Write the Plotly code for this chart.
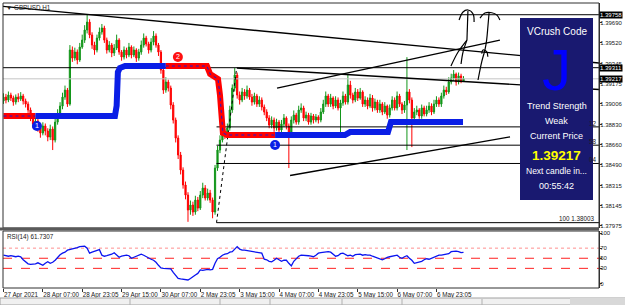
import plotly.graph_objects as go

# ------------------------------------------------------------------ data
symbol_title = "GBPUSD,H1"
time_labels = ["27 Apr 2021", "28 Apr 07:00", "28 Apr 23:05", "29 Apr 15:00",
               "30 Apr 07:00", "2 May 23:05", "3 May 15:00", "4 May 07:00",
               "4 May 23:05", "5 May 15:00", "6 May 07:00", "6 May 23:05"]
label_bars = [0, 16, 32, 48, 64, 80, 96, 112, 128, 144, 160, 176]

first_open = 1.39030
closes = [1.39063, 1.39038, 1.39080, 1.39055, 1.39021, 1.39063, 1.39046, 1.39072, 1.39030, 1.39004,
          1.38954, 1.38886, 1.38835, 1.38861, 1.38802, 1.38759, 1.38819, 1.38776, 1.38726, 1.38793,
          1.38700, 1.38852, 1.38928, 1.38987, 1.39063, 1.39122, 1.39004, 1.39460, 1.39392, 1.39443,
          1.39376, 1.39485, 1.39544, 1.39629, 1.39696, 1.39587, 1.39502, 1.39460, 1.39561, 1.39612,
          1.39646, 1.39544, 1.39460, 1.39502, 1.39435, 1.39477, 1.39544, 1.39443, 1.39401, 1.39460,
          1.39418, 1.39485, 1.39418, 1.39460, 1.39392, 1.39443, 1.39502, 1.39561, 1.39511, 1.39460,
          1.39527, 1.39578, 1.39502, 1.39443, 1.39291, 1.39122, 1.39190, 1.39139, 1.38996, 1.38869,
          1.38717, 1.38574, 1.38447, 1.38321, 1.38236, 1.38110, 1.38152, 1.38093, 1.38194, 1.38126,
          1.38236, 1.38295, 1.38211, 1.38253, 1.38194, 1.38093, 1.38464, 1.38616, 1.38700, 1.38759,
          1.38743, 1.38802, 1.38954, 1.39139, 1.39249, 1.39080, 1.39038, 1.39106, 1.39072, 1.39122,
          1.39063, 1.39021, 1.39072, 1.39004, 1.39038, 1.38979, 1.38937, 1.38886, 1.38827, 1.38869,
          1.38802, 1.38852, 1.38785, 1.38835, 1.38886, 1.38819, 1.38743, 1.38869, 1.38911, 1.38852,
          1.38954, 1.38971, 1.38886, 1.38911, 1.38852, 1.38903, 1.38869, 1.38895, 1.38869, 1.38937,
          1.39004, 1.39072, 1.39004, 1.39055, 1.38987, 1.39038, 1.38971, 1.39013, 1.39072, 1.39021,
          1.39165, 1.39080, 1.39038, 1.39106, 1.39055, 1.39106, 1.39004, 1.39038, 1.38987, 1.39055,
          1.38971, 1.39021, 1.38954, 1.39004, 1.38937, 1.38987, 1.38911, 1.38971, 1.39038, 1.38971,
          1.39072, 1.39004, 1.38954, 1.38996, 1.39106, 1.39038, 1.38886, 1.38937, 1.38954, 1.38903,
          1.38971, 1.38920, 1.38954, 1.38987, 1.38937, 1.39004, 1.39038, 1.39004, 1.39072, 1.39122,
          1.39106, 1.39190, 1.39224, 1.39257, 1.39190, 1.39241, 1.39198, 1.39217]
highs = [1.39095, 1.39090, 1.39110, 1.39100, 1.39075, 1.39085, 1.39095, 1.39105, 1.39090, 1.39050,
         1.39025, 1.38975, 1.38910, 1.38890, 1.38880, 1.38830, 1.38850, 1.38840, 1.38800, 1.38830,
         1.38815, 1.38880, 1.38960, 1.39020, 1.39100, 1.39160, 1.39140, 1.39502, 1.39490, 1.39480,
         1.39465, 1.39520, 1.39590, 1.39670, 1.39764, 1.39720, 1.39610, 1.39530, 1.39590, 1.39650,
         1.39680, 1.39665, 1.39565, 1.39535, 1.39520, 1.39510, 1.39590, 1.39560, 1.39460, 1.39490,
         1.39480, 1.39520, 1.39500, 1.39490, 1.39475, 1.39470, 1.39540, 1.39600, 1.39580, 1.39530,
         1.39560, 1.39620, 1.39600, 1.39520, 1.39460, 1.39310, 1.39230, 1.39210, 1.39160, 1.39020,
         1.38890, 1.38740, 1.38600, 1.38470, 1.38350, 1.38260, 1.38190, 1.38180, 1.38230, 1.38220,
         1.38270, 1.38340, 1.38320, 1.38290, 1.38280, 1.38215, 1.38490, 1.38650, 1.38740, 1.38800,
         1.38790, 1.38840, 1.38990, 1.39170, 1.39308, 1.39270, 1.39110, 1.39140, 1.39130, 1.39160,
         1.39140, 1.39090, 1.39100, 1.39090, 1.39070, 1.39060, 1.39000, 1.38960, 1.38910, 1.38900,
         1.38890, 1.38880, 1.38870, 1.38870, 1.38920, 1.38900, 1.38840, 1.38900, 1.38950, 1.38930,
         1.38990, 1.39010, 1.38990, 1.38940, 1.38930, 1.38930, 1.38920, 1.38920, 1.38910, 1.38970,
         1.39040, 1.39110, 1.39090, 1.39090, 1.39070, 1.39070, 1.39060, 1.39040, 1.39110, 1.39090,
         1.39260, 1.39200, 1.39100, 1.39140, 1.39130, 1.39140, 1.39120, 1.39070, 1.39060, 1.39090,
         1.39080, 1.39050, 1.39040, 1.39040, 1.39020, 1.39020, 1.39000, 1.39000, 1.39070, 1.39060,
         1.39110, 1.39090, 1.39020, 1.39030, 1.39400, 1.39130, 1.39060, 1.38970, 1.38990, 1.38970,
         1.39000, 1.38990, 1.38990, 1.39020, 1.39010, 1.39040, 1.39070, 1.39060, 1.39100, 1.39160,
         1.39150, 1.39230, 1.39260, 1.39291, 1.39270, 1.39270, 1.39260, 1.39240]
lows = [1.39005, 1.39010, 1.39020, 1.39030, 1.38990, 1.39000, 1.39020, 1.39030, 1.39000, 1.38975,
        1.38930, 1.38860, 1.38800, 1.38810, 1.38770, 1.38720, 1.38740, 1.38740, 1.38690, 1.38700,
        1.38616, 1.38680, 1.38830, 1.38900, 1.38960, 1.39040, 1.38980, 1.38990, 1.39360, 1.39370,
        1.39340, 1.39360, 1.39470, 1.39520, 1.39600, 1.39560, 1.39470, 1.39420, 1.39440, 1.39540,
        1.39590, 1.39520, 1.39430, 1.39440, 1.39400, 1.39410, 1.39460, 1.39420, 1.39370, 1.39380,
        1.39390, 1.39400, 1.39390, 1.39400, 1.39360, 1.39370, 1.39420, 1.39480, 1.39490, 1.39430,
        1.39440, 1.39500, 1.39480, 1.39410, 1.39260, 1.39090, 1.39100, 1.39110, 1.38960, 1.38840,
        1.38680, 1.38540, 1.38410, 1.38290, 1.38200, 1.38010, 1.38070, 1.38060, 1.38070, 1.38100,
        1.38110, 1.38210, 1.38190, 1.38190, 1.38170, 1.38040, 1.38070, 1.38440, 1.38590, 1.38680,
        1.38710, 1.38720, 1.38780, 1.38930, 1.39110, 1.39050, 1.39000, 1.39020, 1.39040, 1.39050,
        1.39040, 1.38990, 1.39000, 1.38980, 1.38980, 1.38950, 1.38910, 1.38860, 1.38800, 1.38800,
        1.38770, 1.38780, 1.38750, 1.38760, 1.38810, 1.38790, 1.38464, 1.38720, 1.38840, 1.38830,
        1.38830, 1.38930, 1.38860, 1.38860, 1.38830, 1.38830, 1.38840, 1.38850, 1.38840, 1.38850,
        1.38920, 1.38980, 1.38980, 1.38980, 1.38960, 1.38970, 1.38950, 1.38760, 1.38990, 1.39000,
        1.39000, 1.39050, 1.39010, 1.39020, 1.39030, 1.39040, 1.38980, 1.38980, 1.38960, 1.38970,
        1.38940, 1.38950, 1.38930, 1.38930, 1.38910, 1.38920, 1.38880, 1.38890, 1.38950, 1.38950,
        1.38950, 1.38980, 1.38920, 1.38930, 1.38616, 1.39010, 1.38641, 1.38860, 1.38910, 1.38880,
        1.38880, 1.38900, 1.38900, 1.38930, 1.38910, 1.38920, 1.38980, 1.38980, 1.38980, 1.39050,
        1.39080, 1.39090, 1.39170, 1.39200, 1.39160, 1.39170, 1.39180, 1.39190]

rsi_values = [56, 55, 54, 55, 54, 53, 54, 53, 47, 43,
              39, 38, 38, 39, 41, 38, 36, 40, 43, 40,
              42, 46, 52, 57, 60, 62, 66, 67, 68, 69,
              71, 73, 73, 74, 70, 60, 62, 64, 66, 67,
              56, 54, 55, 56, 58, 61, 57, 52, 54, 55,
              56, 55, 50, 52, 54, 56, 58, 56, 53, 50,
              48, 46, 42, 36, 31, 30, 30, 30, 29, 22,
              15, 10, 9, 8, 7, 7, 10, 14, 17, 20,
              27, 26, 27, 28, 27, 28, 40, 49, 52, 56,
              58, 59, 62, 63, 68, 73, 68, 66, 66, 65,
              65, 64, 63, 62, 61, 60, 48, 47, 44, 43,
              46, 50, 47, 44, 46, 46, 40, 35, 44, 50,
              54, 56, 56, 56, 55, 54, 53, 56, 60, 61,
              62, 63, 63, 62, 58, 54, 55, 59, 60, 57,
              55, 56, 54, 57, 58, 58, 56, 57, 56, 56,
              54, 52, 50, 48, 47, 49, 52, 53, 54, 55,
              56, 52, 50, 53, 55, 50, 46, 40, 41, 43,
              44, 47, 49, 48, 50, 51, 54, 56, 56, 57,
              57, 59, 63, 64, 64, 63, 61, 61.7307]
rsi_last = "61.7307"

price_ticks = [1.39690, 1.39520, 1.39345, 1.39175, 1.39006, 1.38830,
               1.38660, 1.38490, 1.38315, 1.38145, 1.37975]
marked_prices = [1.39758, 1.39311, 1.39217]
rsi_ticks = [100, 70, 50, 30, 0]
rsi_levels = [70, 50, 30]

current_price = 1.39217
top_level = 1.39758
fib_high, fib_low = 1.39311, 1.38003
fib_ratios = [0.382, 0.5, 0.618, 1.0]
fib_tails = ["12", "58", "04"]
fib_start_bar = 86.6
fib_diag_bars = [86.6, 94.8]

# VCrush step line: vertices (bar, price) by colour
vc_red1_x = [0, 13]
vc_red1_y = [1.38903, 1.38903]
vc_blue1_x = [13, 45.3, 46, 46.5, 47.3, 49.4, 66]
vc_blue1_y = [1.38903, 1.38903, 1.38990, 1.39274, 1.39308, 1.39325, 1.39325]
vc_red2_x = [66, 82.7, 84, 86, 87.2, 88, 88.8, 89.2, 90.9, 110.4]
vc_red2_y = [1.39325, 1.39325, 1.39257, 1.39232, 1.39215, 1.39080, 1.38869, 1.38760, 1.38743, 1.38743]
vc_blue2_x = [110.4, 138.8, 140.9, 156.3, 157.5, 186.8]
vc_blue2_y = [1.38743, 1.38743, 1.38768, 1.38768, 1.38852, 1.38852]
signal_x = [13.6, 110.4, 70.9]
signal_y = [1.38819, 1.38658, 1.39401]
signal_txt = ["1", "1", "2"]
signal_col = ["#0a1ee6", "#0a1ee6", "#ff1010"]

# trendlines (bar, price anchors)
trend_lines = [
    ([-1.4, 242.1], [1.39831, 1.39350]),
    ([94.9, 242.1], [1.39308, 1.39127]),
    ([111.2, 201.8], [1.39139, 1.39544]),
    ([116.5, 205.9], [1.38401, 1.38727]),
]
# hand-drawn figures (bar, price)
sketch_paths = [
    ([185.2, 186.8, 188.8, 190.9, 191.3], [1.39713, 1.39781, 1.39798, 1.39764, 1.39696]),
    ([188.8, 188.4], [1.39789, 1.39544]),
    ([188.4, 184.8, 181.9], [1.39544, 1.39443, 1.39325]),
    ([188.4, 186.8, 186.0], [1.39544, 1.39443, 1.39342]),
    ([193.7, 195.7, 198.5, 200.6, 201.8], [1.39730, 1.39772, 1.39775, 1.39755, 1.39713]),
    ([197.4, 196.9, 196.4, 195.7, 194.4, 192.9], [1.39775, 1.39654, 1.39544, 1.39460, 1.39361, 1.39207]),
    ([194.4, 194.9, 196.4, 196.9], [1.39430, 1.39460, 1.39446, 1.39403]),
]

panel_lines = ["VCrush Code", "Trend Strength", "Weak", "Current Price",
               "1.39217", "Next candle in...", "00:55:42"]
panel_letter = "J"

# ------------------------------------------------------------------ geometry / style
W, H = 625, 305
ML, MR, MT, MB = 3, 26, 3, 17
X_RANGE = [-0.2, 242.08]
Y_RANGE = [1.37958, 1.39857]
RSI_RANGE = [-8.9, 103.96]
GREEN, RED = "#13961a", "#ff0000"
FONT = "Liberation Sans, Arial, sans-serif"


def px(x):
    return (x - ML) / (W - ML - MR)


def py(y):
    return (H - MB - y) / (H - MT - MB)


n = len(closes)
bars = list(range(n))
opens = [first_open] + closes[:-1]

fig = go.Figure()

# candles
fig.add_trace(go.Candlestick(
    x=bars, open=opens, high=highs, low=lows, close=closes,
    increasing=dict(line=dict(color=GREEN, width=1), fillcolor=GREEN),
    decreasing=dict(line=dict(color=RED, width=1), fillcolor=RED),
    whiskerwidth=0, showlegend=False, hoverinfo="skip", xaxis="x", yaxis="y"))


def hline(price, color="black", width=1, x0=None, dash="solid"):
    fig.add_trace(go.Scatter(x=[X_RANGE[0] if x0 is None else x0, X_RANGE[1]], y=[price, price],
                             mode="lines", line=dict(color=color, width=width, dash=dash),
                             showlegend=False, hoverinfo="skip", xaxis="x", yaxis="y"))


hline(current_price, color="#c4c4c4")
hline(top_level)
hline(fib_high)
for r in fib_ratios:
    hline(fib_high - r * (fib_high - fib_low), x0=fib_start_bar)
fig.add_trace(go.Scatter(x=fib_diag_bars, y=[fib_low, fib_high], mode="lines",
                         line=dict(color="black", width=1, dash="dot"),
                         showlegend=False, hoverinfo="skip"))

for xs, ys in trend_lines:
    fig.add_trace(go.Scatter(x=xs, y=ys, mode="lines", line=dict(color="black", width=1.4),
                             showlegend=False, hoverinfo="skip"))
for xs, ys in sketch_paths:
    fig.add_trace(go.Scatter(x=xs, y=ys, mode="lines", line=dict(color="black", width=1.2),
                             line_shape="spline", showlegend=False, hoverinfo="skip"))

# VCrush line
for xs, ys, col in [(vc_red1_x, vc_red1_y, RED), (vc_blue1_x, vc_blue1_y, "#0a1ee6"),
                    (vc_red2_x, vc_red2_y, RED), (vc_blue2_x, vc_blue2_y, "#0a1ee6")]:
    fig.add_trace(go.Scatter(x=xs, y=ys, mode="lines", line=dict(color=col, width=6),
                             showlegend=False, hoverinfo="skip"))
    if col == RED:
        fig.add_trace(go.Scatter(x=xs, y=ys, mode="lines",
                                 line=dict(color="#1a1ad0", width=1, dash="dot"),
                                 showlegend=False, hoverinfo="skip"))
fig.add_trace(go.Scatter(x=signal_x, y=signal_y, mode="markers+text", text=signal_txt,
                         textposition="middle center",
                         textfont=dict(color="white", size=7, family=FONT),
                         marker=dict(size=10, color=signal_col, line=dict(width=0)),
                         showlegend=False, hoverinfo="skip"))

# RSI
for lv in rsi_levels:
    fig.add_trace(go.Scatter(x=[X_RANGE[0], X_RANGE[1]], y=[lv, lv], mode="lines",
                             line=dict(color="#ff9090" if lv == 70 else "#ff2020", width=1,
                                       dash="dot" if lv == 70 else "dash"),
                             showlegend=False, hoverinfo="skip", xaxis="x", yaxis="y2"))
fig.add_trace(go.Scatter(x=bars, y=rsi_values, mode="lines", line=dict(color="#0a14f0", width=1.3),
                         showlegend=False, hoverinfo="skip", xaxis="x", yaxis="y2"))

shapes = [
    # panel frames
    dict(type="rect", xref="paper", yref="paper", x0=0, x1=1, y0=py(228), y1=1,
         line=dict(color="#303030", width=1)),
    dict(type="rect", xref="paper", yref="paper", x0=0, x1=1, y0=0, y1=py(231),
         line=dict(color="#303030", width=1)),
    dict(type="rect", xref="paper", yref="paper", x0=px(0), x1=1, y0=py(230.5), y1=py(227.5),
         fillcolor="#5a5a5a", line=dict(width=0)),
    # bottom tab strip
    dict(type="rect", xref="paper", yref="paper", x0=px(0), x1=px(625), y0=py(305), y1=py(298),
         fillcolor="#f0f0f0", line=dict(color="#a0a0a0", width=1)),
    dict(type="rect", xref="paper", yref="paper", x0=px(570), x1=px(625), y0=py(305), y1=py(298),
         fillcolor="#d8d8d8", line=dict(width=0)),
    # info panel
    dict(type="rect", xref="paper", yref="paper", x0=px(520), x1=px(593), y0=py(200), y1=py(18),
         fillcolor="#191970", line=dict(width=0), layer="above"),
]
for xd in [130, 220, 270, 342, 402, 482]:
    shapes.append(dict(type="line", xref="paper", yref="paper", x0=px(xd), x1=px(xd),
                       y0=py(305), y1=py(299), line=dict(color="#b0b0b0", width=1)))

ann = []
cx = px(556.5)
ann.append(dict(x=cx, y=py(32), text=panel_lines[0], font=dict(color="white", size=10, family=FONT)))
ann.append(dict(x=px(556), y=py(70), text=panel_letter, font=dict(color="#0000ff", size=58, family=FONT)))
ann.append(dict(x=cx, y=py(106), text=panel_lines[1], font=dict(color="white", size=9, family=FONT)))
ann.append(dict(x=cx, y=py(121), text=panel_lines[2], font=dict(color="white", size=9, family=FONT)))
ann.append(dict(x=cx, y=py(136), text=panel_lines[3], font=dict(color="white", size=9, family=FONT)))
ann.append(dict(x=cx, y=py(155), text="<b>" + panel_lines[4] + "</b>",
                font=dict(color="#ffff00", size=13.5, family=FONT)))
ann.append(dict(x=cx, y=py(171), text=panel_lines[5], font=dict(color="white", size=8.5, family=FONT)))
ann.append(dict(x=cx, y=py(186), text=panel_lines[6], font=dict(color="white", size=9, family=FONT)))
for a in ann:
    a.update(xref="paper", yref="paper", showarrow=False, xanchor="center", yanchor="middle")

small = dict(size=6.3, family=FONT, color="#202020")
axis_font = dict(size=6.0, family=FONT, color="#202020")
for p in marked_prices:
    ann.append(dict(xref="paper", yref="y", x=px(599.5), y=p, text="%.5f" % p, showarrow=False,
                    xanchor="left", yanchor="middle", bgcolor="black",
                    font=dict(size=6.0, family=FONT, color="white"), borderpad=0))
for r, t in zip(fib_ratios[:3], fib_tails):
    ann.append(dict(xref="paper", yref="y", x=px(598.5), y=fib_high - r * (fib_high - fib_low),
                    text=t, showarrow=False, xanchor="right", yanchor="bottom", font=small,
                    yshift=-2))
ann.append(dict(xref="paper", yref="y", x=px(597), y=fib_low, text="100 %.5f" % fib_low,
                showarrow=False, xanchor="right", yanchor="bottom", font=small, yshift=-1))
ann.append(dict(xref="paper", yref="paper", x=px(5), y=py(237), text="RSI(14) " + rsi_last,
                showarrow=False, xanchor="left", yanchor="middle", font=small))
ann.append(dict(xref="paper", yref="paper", x=px(4), y=py(7), text="\u25bc " + symbol_title,
                showarrow=False, xanchor="left", yanchor="middle", font=small))

fig.update_layout(
    width=W, height=H, margin=dict(l=ML, r=MR, t=MT, b=MB, autoexpand=False),
    paper_bgcolor="white", plot_bgcolor="white", showlegend=False,
    font=dict(family=FONT, size=6.3, color="#202020"),
    shapes=shapes, annotations=ann,
    xaxis=dict(domain=[0, 1], range=X_RANGE, anchor="y2", showgrid=False, zeroline=False,
               tickmode="array", tickvals=label_bars, ticktext=time_labels,
               ticks="outside", ticklen=3, tickcolor="#303030", tickangle=0,
               ticklabelposition="outside right", tickfont=small, automargin=False,
               rangeslider=dict(visible=False), showline=False, fixedrange=True),
    yaxis=dict(domain=[py(228), 1], range=Y_RANGE, side="right", anchor="x",
               showgrid=False, zeroline=False, tickmode="array", tickvals=price_ticks,
               ticktext=["%.5f" % v for v in price_ticks], ticks="outside", ticklen=2,
               tickcolor="#303030", tickfont=axis_font, showline=True, linecolor="#303030",
               linewidth=1, automargin=False, ticklabelstandoff=-3),
    yaxis2=dict(domain=[0, py(231)], range=RSI_RANGE, side="right", anchor="x",
                showgrid=False, zeroline=False, tickmode="array", tickvals=rsi_ticks,
                ticktext=[str(v) for v in rsi_ticks], ticks="outside", ticklen=2,
                tickcolor="#303030", tickfont=axis_font, showline=True, linecolor="#303030",
                linewidth=1, automargin=False, ticklabelstandoff=-3),
)

fig.write_html("out.html")
